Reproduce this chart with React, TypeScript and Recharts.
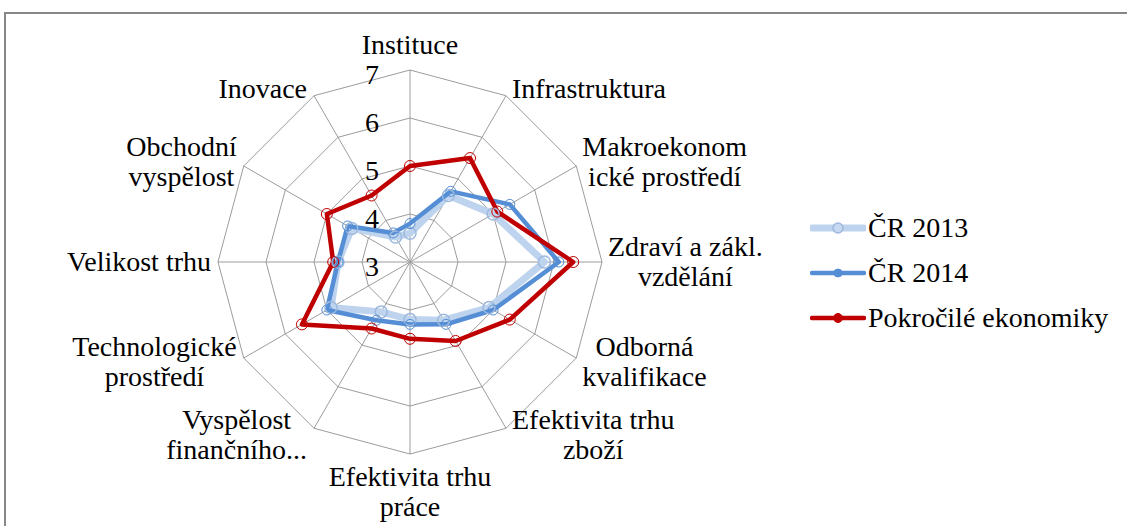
import React from 'react';
import { RadarChart, Radar, PolarGrid, PolarAngleAxis, PolarRadiusAxis, Legend } from 'recharts';

// pillar names as printed (Excel wrapped/truncated some of them)
const categories = [
  'Instituce',
  'Infrastruktura',
  'Makroekonom\nické prostředí',
  'Zdraví a zákl.\nvzdělání',
  'Odborná\nkvalifikace',
  'Efektivita trhu\nzboží',
  'Efektivita trhu\npráce',
  'Vyspělost\nfinančního...',
  'Technologické\nprostředí',
  'Velikost trhu',
  'Obchodní\nvyspělost',
  'Inovace',
];

const cr2013 = [3.6, 4.6, 5.0, 5.8, 4.9, 4.4, 4.2, 4.2, 4.9, 4.5, 4.4, 3.6];
const cr2014 = [3.8, 4.7, 5.4, 6.1, 5.0, 4.5, 4.3, 4.4, 5.0, 4.5, 4.5, 3.7];
const advanced = [5.0, 5.5, 5.1, 6.4, 5.4, 4.9, 4.6, 4.6, 5.6, 4.6, 5.0, 4.6];

const radiusDomain = [3, 7];

const data = categories.map((category, i) => ({
  category,
  cr2013: cr2013[i],
  cr2014: cr2014[i],
  advanced: advanced[i],
}));

const series = [
  { key: 'cr2013', name: 'ČR 2013', color: '#BDD3EE', width: 7, dot: { r: 6, fill: '#C6D9F1', stroke: '#9DB9DD', strokeWidth: 1.5 } },
  { key: 'cr2014', name: 'ČR 2014', color: '#558ED5', width: 4.5, dot: { r: 5, fill: '#558ED5', stroke: '#558ED5', strokeWidth: 1 } },
  { key: 'advanced', name: 'Pokročilé ekonomiky', color: '#C00000', width: 4.5, dot: { r: 5.5, fill: '#C00000', stroke: '#C00000', strokeWidth: 1 } },
];

const CX = 410;
const CY = 262;
const R = 192;
const FONT = "'Liberation Serif', 'DejaVu Serif', 'Noto Serif', serif";
const FS = 28;
const LH = 30;

let ctx: CanvasRenderingContext2D | null = null;
function textWidth(s: string) {
  if (!ctx) ctx = document.createElement('canvas').getContext('2d');
  if (!ctx) return s.length * FS * 0.45;
  ctx.font = `${FS}px ${FONT}`;
  return ctx.measureText(s).width;
}

function AngleTick(props: any) {
  const { x, y, payload } = props;
  const dx = x - CX;
  const dy = y - CY;
  const len = Math.hypot(dx, dy) || 1;
  const ux = dx / len;
  const uy = dy / len;
  const vx = CX + ux * R;
  const vy = CY + uy * R;
  const lines = String(payload.value).split('\n');
  const w = Math.max(...lines.map(textWidth));
  const h = lines.length * LH;

  let left: number;
  let top: number;
  if (Math.abs(ux) < 0.01) {
    left = vx - w / 2;
    top = uy < 0 ? vy - 10 - h : vy + 8;
  } else {
    left = ux > 0 ? vx + 6 : vx - 7 - w;
    top = vy + uy * 8 - h / 2;
  }
  const mid = left + w / 2;

  return (
    <text textAnchor="middle" style={{ fontFamily: FONT, fontSize: FS }} fill="#000">
      {lines.map((l, i) => (
        <tspan key={i} x={mid} y={top + LH * i + LH / 2 + 9}>
          {l}
        </tspan>
      ))}
    </text>
  );
}

function RadiusTick(props: any) {
  const { x, y, payload } = props;
  return (
    <text x={x - 31} y={y + 14} textAnchor="end" style={{ fontFamily: FONT, fontSize: FS }} fill="#000">
      {payload.value}
    </text>
  );
}

function LegendBox() {
  return (
    <div style={{ fontFamily: FONT, fontSize: FS, color: '#000' }}>
      {series.map((s) => (
        <div key={s.key} style={{ display: 'flex', alignItems: 'center', height: 45 }}>
          <svg width={56} height={20} style={{ marginRight: 2 }}>
            <line x1={2} y1={10} x2={54} y2={10} stroke={s.color} strokeWidth={s.width} strokeLinecap="round" />
            <circle cx={28} cy={10} r={s.dot.r - 1} fill={s.dot.fill} stroke={s.dot.stroke} strokeWidth={s.dot.strokeWidth} />
          </svg>
          <span style={{ lineHeight: 1, whiteSpace: 'nowrap' }}>{s.name}</span>
        </div>
      ))}
    </div>
  );
}

export default function App() {
  return (
    <div style={{ position: 'fixed', left: 0, top: 0, width: 1127, height: 526, background: '#fff', overflow: 'hidden', fontFamily: FONT }}>
      <div
        style={{
          position: 'absolute',
          left: 4,
          top: 12,
          right: 0,
          bottom: 0,
          borderLeft: '2px solid #878787',
          borderTop: '2px solid #878787',
        }}
      />
      <div style={{ position: 'absolute', left: 0, top: 0 }}>
        <RadarChart width={1127} height={526} data={data} cx={CX} cy={CY} outerRadius={R} margin={{ top: 0, right: 0, bottom: 0, left: 0 }}>
          <PolarGrid gridType="polygon" stroke="#9C9C9C" strokeWidth={1} />
          <PolarAngleAxis dataKey="category" tick={(p: any) => <AngleTick {...p} />} tickLine={false} axisLine={false} />
          <PolarRadiusAxis
            angle={90}
            domain={radiusDomain}
            tickCount={5}
            axisLine={false}
            tickLine={false}
            tick={(p: any) => <RadiusTick {...p} />}
          />
          {series.map((s) => (
            <Radar
              key={s.key}
              name={s.name}
              dataKey={s.key}
              stroke={s.color}
              strokeWidth={s.width}
              strokeLinejoin="round"
              fill="none"
              fillOpacity={0}
              dot={s.dot}
              isAnimationActive={false}
            />
          ))}
          <Legend
            layout="vertical"
            content={() => <LegendBox />}
            wrapperStyle={{ left: 810, top: 205, width: 317 }}
          />
        </RadarChart>
      </div>
    </div>
  );
}
